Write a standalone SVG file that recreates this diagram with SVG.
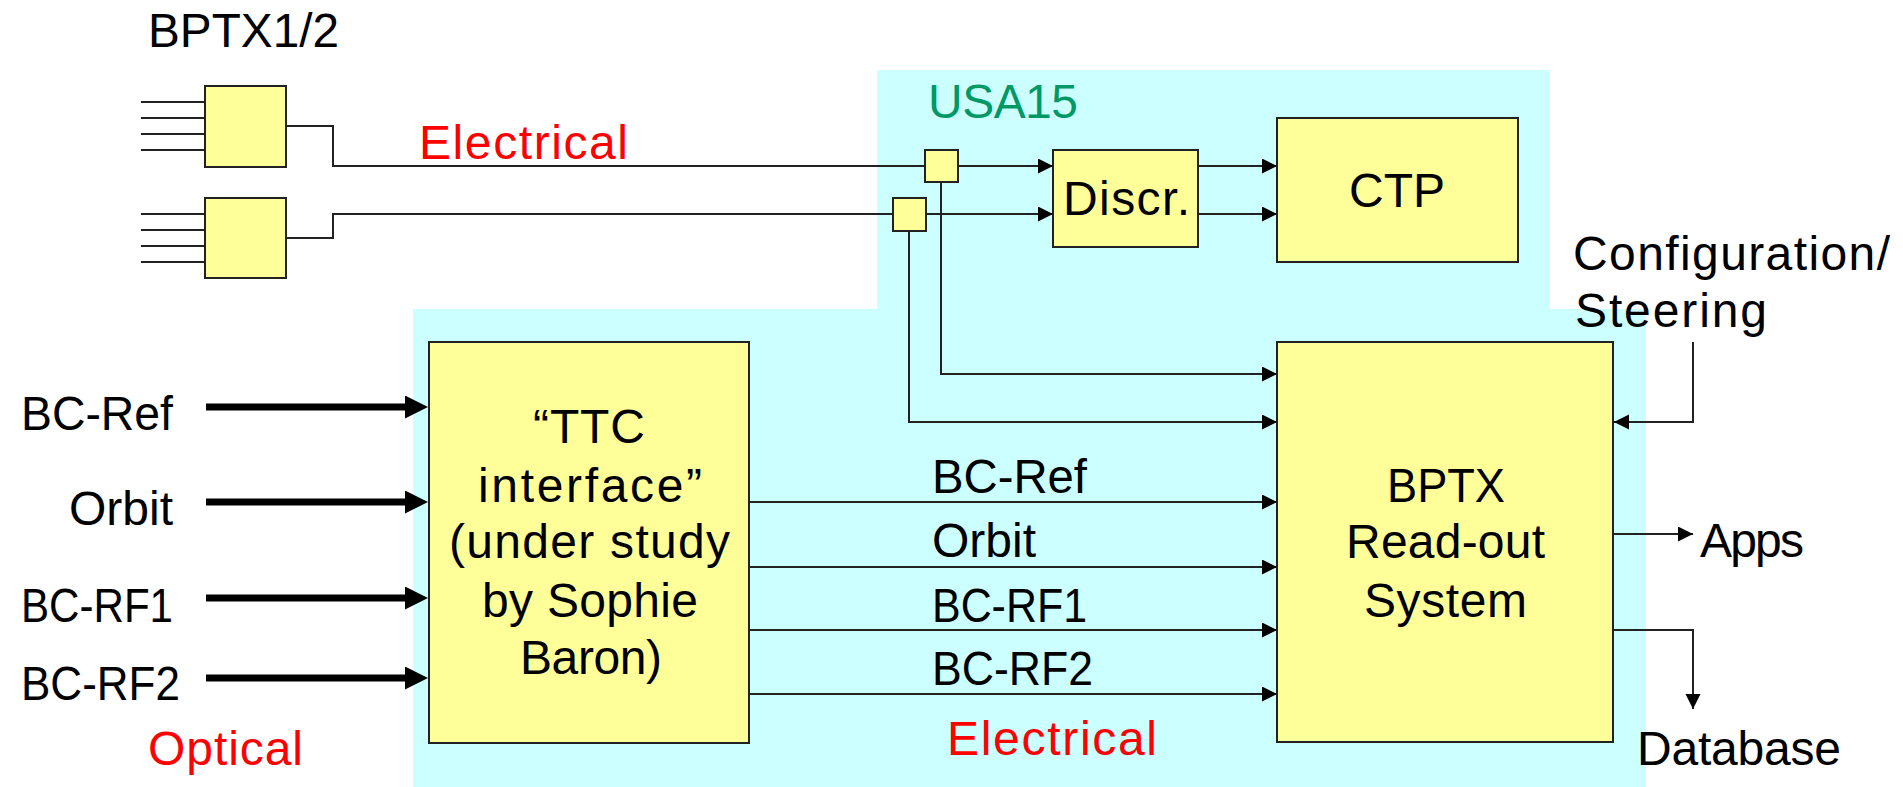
<svg xmlns="http://www.w3.org/2000/svg" width="1903" height="787" viewBox="0 0 1903 787">
<style>
  text { font-family: "Liberation Sans", Arial, sans-serif; font-size: 48px; fill: #000; }
  .red { fill: #ff0000; }
  .teal { fill: #009966; }
  .box { fill: #ffff99; stroke: #222; stroke-width: 2; }
  .bg { fill: #ccffff; stroke: none; }
  .ln { fill: none; stroke: #222; stroke-width: 2; }
  .thick { fill: none; stroke: #000; stroke-width: 7; }
  .mid { text-anchor: middle; }
  .end { text-anchor: end; }
</style>
<defs>
  <marker id="arr" markerUnits="userSpaceOnUse" markerWidth="16" markerHeight="16" refX="15" refY="7.5" orient="auto">
    <path d="M0,0 L15,7.5 L0,15 z" fill="#000"/>
  </marker>
  <marker id="arrBig" markerUnits="userSpaceOnUse" markerWidth="24" markerHeight="24" refX="1" refY="11.5" orient="auto">
    <path d="M0,0 L23,11.5 L0,23 z" fill="#000"/>
  </marker>
</defs>
<rect width="1903" height="787" fill="#fff"/>
<g id="backgrounds">
  <rect class="bg" x="877" y="70" width="673" height="240"/>
  <rect class="bg" x="413" y="309" width="1233" height="478"/>
</g>
<g id="labels">
  <text x="148" y="47" textLength="191" lengthAdjust="spacingAndGlyphs">BPTX1/2</text>
  <text class="red" x="419" y="159" textLength="209">Electrical</text>
  <text class="teal" x="928" y="118" textLength="150">USA15</text>
  <text x="1573" y="270" textLength="317">Configuration/</text>
  <text x="1575" y="327" textLength="192">Steering</text>
  <text x="21" y="430" textLength="152" lengthAdjust="spacingAndGlyphs">BC-Ref</text>
  <text class="end" x="173" y="525">Orbit</text>
  <text x="21" y="622" textLength="152" lengthAdjust="spacingAndGlyphs">BC-RF1</text>
  <text x="21" y="700" textLength="159" lengthAdjust="spacingAndGlyphs">BC-RF2</text>
  <text class="red" x="148" y="765" textLength="155">Optical</text>
  <text x="932" y="493" textLength="155" lengthAdjust="spacingAndGlyphs">BC-Ref</text>
  <text x="932" y="557">Orbit</text>
  <text x="932" y="622" textLength="155" lengthAdjust="spacingAndGlyphs">BC-RF1</text>
  <text x="932" y="685" textLength="161" lengthAdjust="spacingAndGlyphs">BC-RF2</text>
  <text class="red" x="947" y="755" textLength="210">Electrical</text>
  <text x="1700" y="557" textLength="104">Apps</text>
  <text x="1637" y="765" textLength="204">Database</text>
</g>
<g id="connectors">
  <path class="ln" d="M141,102 H205 M141,118 H205 M141,134 H205 M141,150 H205"/>
  <path class="ln" d="M141,214 H205 M141,230 H205 M141,246 H205 M141,262 H205"/>
  <path class="ln" d="M286,126 H333 V166 H1053" marker-end="url(#arr)"/>
  <path class="ln" d="M286,238 H333 V214 H1053" marker-end="url(#arr)"/>
  <path class="ln" d="M1198,166 H1277" marker-end="url(#arr)"/>
  <path class="ln" d="M1198,214 H1277" marker-end="url(#arr)"/>
  <path class="ln" d="M941,182 V374 H1277" marker-end="url(#arr)"/>
  <path class="ln" d="M909,231 V422 H1277" marker-end="url(#arr)"/>
  <path class="thick" d="M206,407 H406" marker-end="url(#arrBig)"/>
  <path class="thick" d="M206,502 H406" marker-end="url(#arrBig)"/>
  <path class="thick" d="M206,598 H406" marker-end="url(#arrBig)"/>
  <path class="thick" d="M206,678 H406" marker-end="url(#arrBig)"/>
  <path class="ln" d="M749,502 H1277" marker-end="url(#arr)"/>
  <path class="ln" d="M749,567 H1277" marker-end="url(#arr)"/>
  <path class="ln" d="M749,630 H1277" marker-end="url(#arr)"/>
  <path class="ln" d="M749,694 H1277" marker-end="url(#arr)"/>
  <path class="ln" d="M1693,342 V422 H1614" marker-end="url(#arr)"/>
  <path class="ln" d="M1613,534 H1693" marker-end="url(#arr)"/>
  <path class="ln" d="M1613,630 H1693 V709" marker-end="url(#arr)"/>
</g>
<g id="bptx1">
  <rect class="box" x="205" y="86" width="81" height="81"/>
</g>
<g id="bptx2">
  <rect class="box" x="205" y="198" width="81" height="80"/>
</g>
<g id="split1">
  <rect class="box" x="925" y="150" width="33" height="32"/>
</g>
<g id="split2">
  <rect class="box" x="893" y="198" width="33" height="33"/>
</g>
<g id="discr">
  <rect class="box" x="1053" y="150" width="145" height="97"/>
  <text x="1063" y="215" textLength="127">Discr.</text>
</g>
<g id="ctp">
  <rect class="box" x="1277" y="118" width="241" height="144"/>
  <text class="mid" x="1397" y="207">CTP</text>
</g>
<g id="ttc">
  <rect class="box" x="429" y="342" width="320" height="401"/>
  <text x="533" y="443" textLength="112">“TTC</text>
  <text x="478" y="502" textLength="224">interface”</text>
  <text x="449" y="558" textLength="281">(under study</text>
  <text x="482" y="617" textLength="216">by Sophie</text>
  <text x="520" y="674" textLength="142">Baron)</text>
</g>
<g id="readout">
  <rect class="box" x="1277" y="342" width="336" height="400"/>
  <text x="1387" y="502" textLength="118" lengthAdjust="spacingAndGlyphs">BPTX</text>
  <text x="1346" y="558" textLength="199">Read-out</text>
  <text x="1364" y="617" textLength="163">System</text>
</g>
</svg>
